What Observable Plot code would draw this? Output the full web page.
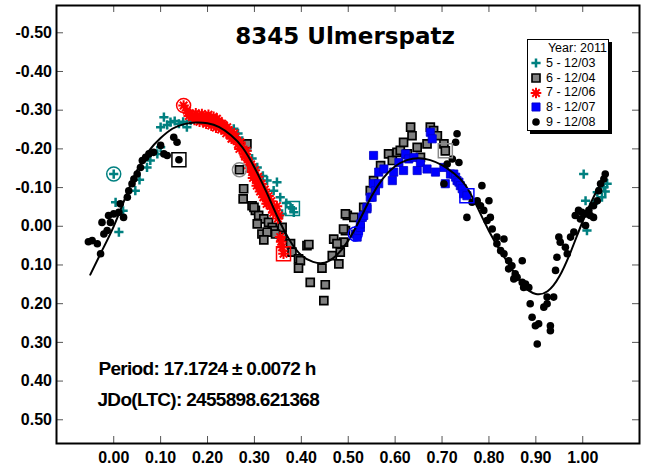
<!DOCTYPE html>
<html><head><meta charset="utf-8">
<script src="https://cdn.jsdelivr.net/npm/d3@7"></script>
<script src="https://cdn.jsdelivr.net/npm/@observablehq/plot@0.6"></script>
<style>
html,body{margin:0;padding:0;background:#fff;}
#wrap{position:relative;width:647px;height:468px;overflow:hidden;}
#wrap svg text{font-weight:bold;}
#legend{position:absolute;left:527px;top:39px;width:80px;height:90px;border:1px solid #000;box-shadow:3px 3px 0 #000;background:#fff;font:12.5px "Liberation Sans",Arial,sans-serif;color:#000;}
#legend .yr{height:16px;line-height:16px;text-align:right;padding-right:1px;}
#legend .row{height:14.7px;line-height:14.7px;position:relative;}
#legend .row svg{position:absolute;left:1px;top:0.35px;}
#legend .row span{position:absolute;left:18px;top:0;}
</style></head><body><div id="wrap"></div>
<script>
// ---------- data ----------
const title = "8345 Ulmerspatz";
const periodText = "Period: 17.1724 ± 0.0072 h";
const jdText = "JDo(LTC): 2455898.621368";
const legendTitle = "Year: 2011";
const seriesNames = ["5 - 12/03","6 - 12/04","7 - 12/06","8 - 12/07","9 - 12/08"];

const xTickValues = [0,0.1,0.2,0.3,0.4,0.5,0.6,0.7,0.8,0.9,1.0];
const xTickLabels = ["0.00","0.10","0.20","0.30","0.40","0.50","0.60","0.70","0.80","0.90","1.00"];
const yTickValues = [-0.5,-0.4,-0.3,-0.2,-0.1,0,0.1,0.2,0.3,0.4,0.5];
const yTickLabels = ["-0.50","-0.40","-0.30","-0.20","-0.10","0.00","0.10","0.20","0.30","0.40","0.50"];

// Series 5 - 12/03 (teal plus)
const s5Phase = [0.000,0.004,0.011,0.020,0.046,0.055,0.071,0.078,0.093,0.100,0.100,0.107,0.114,0.121,0.130,0.139,0.148,0.156,0.164,0.220,0.235,0.256,0.265,0.274,0.284,0.295,0.306,0.318,0.327,0.348,0.341,0.355,0.359,0.368,0.377,0.384,0.381,1.002,1.006,1.009,1.023,1.031,1.041,1.045,1.052,1.048];
const s5Mag   = [-0.135,-0.062,0.015,-0.040,-0.092,-0.120,-0.152,-0.170,-0.187,-0.204,-0.256,-0.282,-0.262,-0.269,-0.272,-0.265,-0.270,-0.256,-0.273,-0.265,-0.262,-0.252,-0.240,-0.221,-0.196,-0.175,-0.152,-0.130,-0.118,-0.114,-0.092,-0.075,-0.032,-0.060,-0.049,-0.036,-0.046,-0.135,-0.066,0.011,-0.058,-0.088,-0.075,-0.101,-0.110,-0.090];

// Series 6 - 12/04 (gray squares)
const s6Phase = [0.268,0.284,0.277,0.276,0.295,0.302,0.309,0.320,0.306,0.330,0.338,0.316,0.341,0.359,0.359,0.377,0.380,0.394,0.412,0.299,0.327,0.345,0.320,0.398,0.394,0.416,0.419,0.451,0.448,0.444,0.469,0.466,0.480,0.483,0.490,0.494,0.498,0.512,0.476,0.494,0.490,0.533,0.547,0.554,0.569,0.586,0.594,0.604,0.611,0.618,0.626,0.633,0.636,0.647,0.654,0.668,0.675,0.682,0.690,0.704,0.707];
const s6Mag   = [-0.146,-0.213,-0.097,-0.071,-0.053,-0.041,-0.028,-0.019,-0.006,-0.010,0.003,0.020,0.011,0.003,0.028,0.045,0.067,0.084,0.050,-0.049,0.015,0.020,0.035,0.089,0.108,0.047,0.145,0.151,0.192,0.108,0.033,0.076,0.097,0.067,0.041,0.011,-0.028,-0.023,0.045,-0.032,0.007,-0.049,-0.092,-0.118,-0.157,-0.187,-0.170,-0.191,-0.196,-0.217,-0.187,-0.256,-0.234,-0.204,-0.178,-0.213,-0.256,-0.247,-0.234,-0.213,-0.195];

// Series 7 - 12/06 (red asterisks)
const s7Phase = [0.149,0.156,0.163,0.167,0.172,0.178,0.188,0.193,0.199,0.205,0.210,0.215,0.220,0.226,0.231,0.237,0.242,0.249,0.254,0.259,0.265,0.270,0.277,0.280,0.284,0.288,0.291,0.295,0.299,0.303,0.306,0.310,0.313,0.317,0.320,0.324,0.327,0.331,0.334,0.338,0.345,0.352,
  0.160,0.175,0.183,0.190,0.197,0.202,0.208,0.213,0.218,0.224,0.229,0.234,0.240,0.245,0.251,0.257,0.262,0.268,0.273,0.279,0.283,0.289,0.293,0.297,0.301,0.305,0.308,0.312,0.315,0.319,0.322,0.326,0.330,0.336,0.340,0.348,0.350,0.357,
  0.355,0.359,0.362];
const s7Mag   = [-0.312,-0.299,-0.290,-0.286,-0.275,-0.282,-0.290,-0.272,-0.282,-0.268,-0.273,-0.262,-0.278,-0.260,-0.265,-0.250,-0.256,-0.239,-0.228,-0.230,-0.212,-0.217,-0.196,-0.180,-0.178,-0.165,-0.157,-0.140,-0.135,-0.120,-0.118,-0.105,-0.101,-0.090,-0.084,-0.075,-0.066,-0.060,-0.053,-0.045,-0.041,-0.028,
  -0.285,-0.292,-0.270,-0.280,-0.265,-0.288,-0.260,-0.283,-0.255,-0.272,-0.250,-0.262,-0.240,-0.248,-0.226,-0.240,-0.222,-0.200,-0.205,-0.185,-0.195,-0.150,-0.160,-0.125,-0.145,-0.105,-0.128,-0.090,-0.110,-0.075,-0.095,-0.058,-0.078,-0.065,-0.035,-0.052,-0.020,0.040,
  0.028,0.054,0.071];

// Series 8 - 12/07 (blue squares)
const s8Phase = [0.515,0.519,0.522,0.526,0.526,0.530,0.533,0.540,0.540,0.547,0.551,0.554,0.558,0.565,0.565,0.576,0.554,0.594,0.597,0.608,0.618,0.622,0.629,0.640,0.647,0.654,0.668,0.675,0.679,0.686,0.704,0.707,0.718,0.725,0.729,0.732,0.736,0.739,0.743,0.746,0.753];
const s8Mag   = [0.020,0.028,0.011,0.003,-0.006,-0.023,-0.028,-0.045,-0.049,-0.075,-0.075,-0.110,-0.092,-0.110,-0.140,-0.148,-0.183,-0.118,-0.140,-0.165,-0.144,-0.187,-0.174,-0.178,-0.144,-0.165,-0.148,-0.243,-0.226,-0.140,-0.152,-0.110,-0.135,-0.135,-0.127,-0.118,-0.114,-0.105,-0.097,-0.084,-0.079];

// Series 9 - 12/08 (black circles)
const s9Phase = [-0.054,-0.046,-0.035,-0.028,-0.021,-0.014,-0.011,-0.025,-0.007,0.000,0.011,0.021,0.014,0.029,0.032,0.039,0.043,0.050,0.057,0.061,0.068,0.075,0.085,0.100,0.107,0.114,0.128,0.135,0.139,
  0.711,0.704,0.722,0.729,0.732,0.736,0.753,0.764,0.775,0.782,0.785,0.789,0.796,0.800,0.803,0.807,0.817,0.832,0.817,0.825,0.832,0.842,0.849,0.842,0.871,0.856,0.853,0.860,0.871,0.878,0.885,0.874,0.888,0.892,0.906,0.899,0.931,0.931,0.903,0.924,0.924,0.917,0.938,0.945,0.942,0.949,0.952,0.963,0.967,0.974,0.981,0.984,0.995,0.998,1.006,1.013,1.016,1.023,1.023,1.031,1.034,1.038,1.045,1.048,1.006,0.991];
const s9Mag   = [0.040,0.037,0.045,0.071,0.020,0.011,-0.028,-0.010,-0.010,-0.032,-0.036,-0.023,-0.058,-0.075,-0.092,-0.110,-0.122,-0.135,-0.152,-0.170,-0.178,-0.187,-0.191,-0.209,-0.187,-0.183,-0.230,-0.217,-0.172,
  -0.161,-0.110,-0.174,-0.217,-0.239,-0.165,-0.023,-0.062,-0.066,-0.053,-0.105,-0.041,-0.015,-0.066,-0.023,0.007,0.028,0.033,0.045,0.063,0.071,0.089,0.102,0.110,0.089,0.123,0.136,0.132,0.145,0.149,0.158,0.158,0.200,0.235,0.252,0.257,0.257,0.270,0.304,0.183,0.200,0.209,0.183,0.080,0.114,0.028,0.041,0.054,0.071,0.028,0.015,-0.028,-0.019,-0.036,-0.032,-0.041,-0.028,-0.023,-0.053,-0.066,-0.092,-0.110,-0.122,-0.135,-0.002,-0.041];

// First (ringed) and last (boxed) points of each session
const ringSeries = ["5 - 12/03","6 - 12/04","7 - 12/06","8 - 12/07"];
const ringPhase  = [0.000,0.268,0.149,0.515];
const ringMag    = [-0.135,-0.146,-0.312,0.020];
const boxSeries  = ["5 - 12/03","6 - 12/04","7 - 12/06","8 - 12/07","9 - 12/08"];
const boxPhase   = [0.381,0.707,0.362,0.753,0.139];
const boxMag     = [-0.046,-0.195,0.071,-0.079,-0.172];

// Fourier fit curve
const curvePhase = [-0.050,-0.025,0.000,0.025,0.050,0.075,0.100,0.125,0.150,0.175,0.200,0.225,0.250,0.275,0.300,0.325,0.350,0.375,0.400,0.425,0.450,0.475,0.500,0.525,0.550,0.575,0.600,0.625,0.650,0.675,0.700,0.725,0.750,0.775,0.800,0.825,0.850,0.875,0.900,0.925,0.950,0.975,1.000,1.025,1.050];
const curveMag   = [0.125,0.063,0.000,-0.075,-0.145,-0.195,-0.228,-0.252,-0.264,-0.268,-0.266,-0.256,-0.235,-0.203,-0.152,-0.090,-0.022,0.036,0.075,0.092,0.094,0.075,0.037,-0.018,-0.078,-0.125,-0.155,-0.171,-0.176,-0.171,-0.158,-0.137,-0.106,-0.050,0.012,0.065,0.112,0.155,0.175,0.168,0.130,0.064,-0.013,-0.080,-0.135];

// ---------- styles ----------
const teal = "#008080", gray = "#808080", red = "#ff0000", blue = "#0000ff", black = "#000000";
const plusSym = {draw(ctx, size){const r=Math.sqrt(size/Math.PI);ctx.moveTo(-r,0);ctx.lineTo(r,0);ctx.moveTo(0,-r);ctx.lineTo(0,r);}};
const starSym = {draw(ctx, size){const r=Math.sqrt(size/Math.PI), d=r*Math.SQRT1_2;
  ctx.moveTo(-r,0);ctx.lineTo(r,0);ctx.moveTo(0,-r);ctx.lineTo(0,r);
  ctx.moveTo(-d,-d);ctx.lineTo(d,d);ctx.moveTo(-d,d);ctx.lineTo(d,-d);}};
const seriesStyle = [
  {symbol: plusSym, r: 4.6, fill: "none", stroke: teal, strokeWidth: 2.5},
  {symbol: "square", r: 4.5, fill: gray, stroke: black, strokeWidth: 1.7},
  {symbol: starSym, r: 5.3, fill: "none", stroke: red, strokeWidth: 2},
  {symbol: "square", r: 4.6, fill: blue, stroke: "#0000c8", strokeWidth: 0.8},
  {symbol: "circle", r: 3.8, fill: black, stroke: "none", strokeWidth: 0}
];
const markColor = {"5 - 12/03": teal, "6 - 12/04": "#8a8a8a", "7 - 12/06": red, "8 - 12/07": blue, "9 - 12/08": black};

const toRows = (ph, mg) => ph.map((p, i) => ({phase: p, mag: mg[i]}));
const seriesData = [toRows(s5Phase,s5Mag), toRows(s6Phase,s6Mag), toRows(s7Phase,s7Mag), toRows(s8Phase,s8Mag), toRows(s9Phase,s9Mag)];
const rings = ringPhase.map((p,i)=>({phase:p, mag:ringMag[i], series:ringSeries[i]}));
const boxes = boxPhase.map((p,i)=>({phase:p, mag:boxMag[i], series:boxSeries[i]}));
const curve = toRows(curvePhase, curveMag);

const xLabel = new Map(xTickValues.map((v,i)=>[v, xTickLabels[i]]));
const yLabel = new Map(yTickValues.map((v,i)=>[v, yTickLabels[i]]));

const W = 647, H = 468, mL = 56, mR = 8, mT = 5, mB = 25;
const innerW = W - mL - mR, innerH = H - mT - mB;
const tickLen = 7;
const font = '"Liberation Sans", Arial, sans-serif';

const marks = [
  Plot.tickX(xTickValues, {x: d => d, insetTop: innerH - tickLen, stroke: "#555", strokeWidth: 1}),
  Plot.tickX(xTickValues, {x: d => d, insetBottom: innerH - tickLen, stroke: "#555", strokeWidth: 1}),
  Plot.tickY(yTickValues, {y: d => d, insetRight: innerW - tickLen, stroke: "#555", strokeWidth: 1}),
  Plot.tickY(yTickValues, {y: d => d, insetLeft: innerW - tickLen, stroke: "#555", strokeWidth: 1}),
  Plot.axisX(xTickValues, {anchor: "bottom", tickSize: 0, tickPadding: 8, tickFormat: d => xLabel.get(d), fontSize: 16, fontWeight: "bold", fill: "#000", label: null}),
  Plot.axisY(yTickValues, {anchor: "left", tickSize: 0, tickPadding: 4.5, tickFormat: d => yLabel.get(d), fontSize: 16, fontWeight: "bold", fill: "#000", label: null}),
];
seriesData.forEach((rows, k) => {
  marks.push(Plot.dot(rows, {x: "phase", y: "mag", ...seriesStyle[k]}));
});
marks.push(
  Plot.line(curve, {x: "phase", y: "mag", stroke: "#000", strokeWidth: 2, curve: "natural"}),
  Plot.dot(rings, {x: "phase", y: "mag", r: 7, fill: "none", stroke: d => markColor[d.series], strokeWidth: 1.5}),
  Plot.dot(boxes, {x: "phase", y: "mag", symbol: "square", r: 7.9, fill: "none", stroke: d => markColor[d.series], strokeWidth: 1.5}),
  Plot.text([title], {frameAnchor: "top", lineAnchor: "bottom", dx: -3, dy: 38, fontSize: 23, fontWeight: "bold", fontFamily: "DejaVu Sans", fill: "#000"}),
  Plot.text([periodText], {frameAnchor: "top-left", textAnchor: "start", lineAnchor: "bottom", dx: 42, dy: 369, fontSize: 19, fontWeight: "bold", fill: "#000"}),
  Plot.text([jdText], {frameAnchor: "top-left", textAnchor: "start", lineAnchor: "bottom", dx: 41, dy: 400, fontSize: 19, fontWeight: "bold", fill: "#000"}),
  Plot.frame({stroke: "#000", strokeWidth: 2})
);

const chart = Plot.plot({
  width: W, height: H,
  marginLeft: mL, marginRight: mR, marginTop: mT, marginBottom: mB,
  x: {domain: [-0.122, 1.121]},
  y: {domain: [-0.5705, 0.5613], reverse: true},
  style: {fontFamily: font, color: "#000", background: "#fff"},
  marks
});
d3.select(chart).selectAll("text").filter(function(){ const t=this.textContent; return t===periodText || t===jdText; })
  .style("letter-spacing", "-0.7px");
document.getElementById("wrap").appendChild(chart);

// ---------- legend (overlay inside the frame) ----------
const legend = d3.select("#wrap").append("div").attr("id", "legend");
legend.append("div").attr("class", "yr").text(legendTitle);
seriesNames.forEach((name, k) => {
  const st = seriesStyle[k];
  const row = legend.append("div").attr("class", "row");
  const svg = row.append("svg").attr("width", 14).attr("height", 14);
  const type = typeof st.symbol === "string" ? {square: d3.symbolSquare, circle: d3.symbolCircle}[st.symbol] : st.symbol;
  svg.append("path")
    .attr("transform", "translate(7,7)")
    .attr("d", d3.symbol(type, Math.PI * st.r * st.r)())
    .attr("fill", st.fill).attr("stroke", st.stroke).attr("stroke-width", st.strokeWidth);
  row.append("span").text(name);
});
</script>
</body></html>
